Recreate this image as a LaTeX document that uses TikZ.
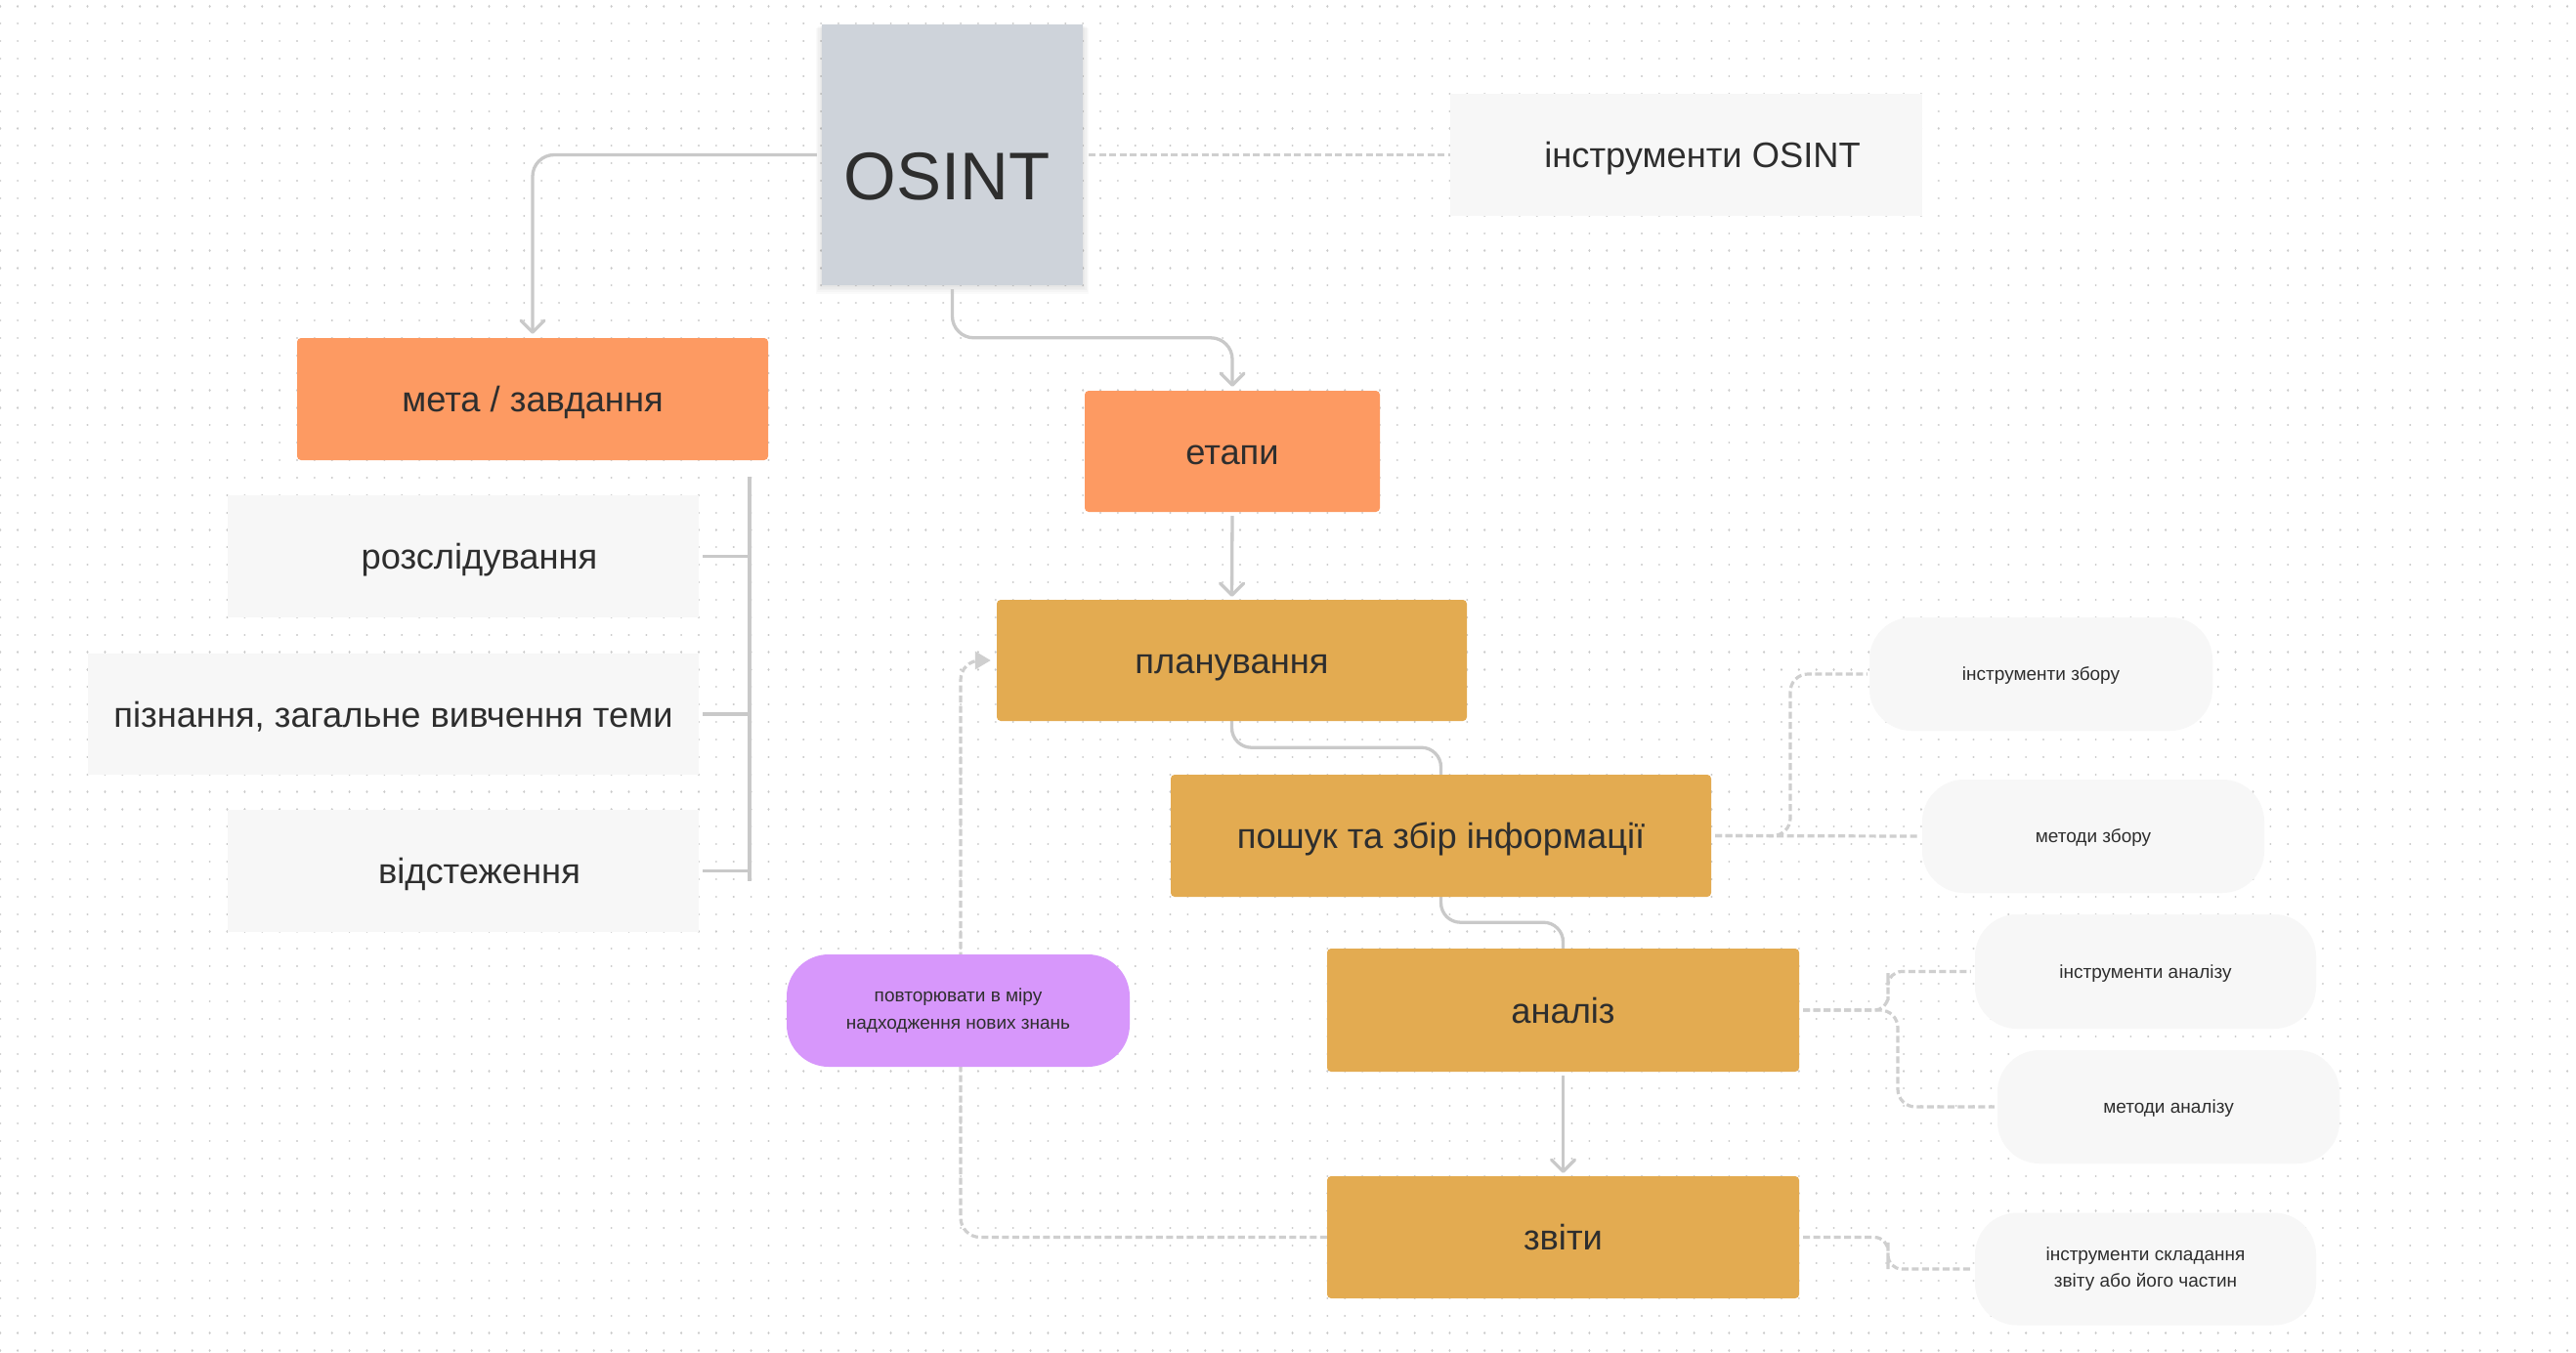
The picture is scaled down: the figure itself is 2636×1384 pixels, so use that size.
\documentclass[tikz,border=0pt]{standalone}
\usepackage{fontspec}
\setmainfont{Liberation Sans}
\usetikzlibrary{arrows.meta}
\definecolor{osgray}{HTML}{CED3DA}
\definecolor{orng}{HTML}{FD9A62}
\definecolor{gold}{HTML}{E3AB51}
\definecolor{light}{HTML}{F7F7F7}
\definecolor{purp}{HTML}{D797FB}
\definecolor{txt}{HTML}{2E2E2E}
\definecolor{linec}{HTML}{C9C9C9}
\definecolor{dashc}{HTML}{CFCFCF}
\definecolor{dotc}{HTML}{CACACA}
\pgfdeclarelayer{dotlayer}
\pgfdeclarelayer{connlayer}
\pgfsetlayers{dotlayer,connlayer,main}
\begin{document}
\begin{tikzpicture}[x=1pt,y=-1pt,
  base/.style={rectangle, inner sep=0pt, text=txt, align=center},
  bigtext/.style={font=\fontsize{36.3}{44}\selectfont, text height=26pt, text depth=0pt},
  smalltext/.style={font=\fontsize{19}{27.5}\selectfont},
  oneline/.style={text height=13.6pt, text depth=0pt},
  osintbox/.style={base, fill=osgray},
  lightbox/.style={base, fill=light, bigtext},
  orbox/.style={base, fill=orng, rounded corners=4pt, bigtext},
  gdbox/.style={base, fill=gold, rounded corners=4pt, bigtext},
  pill/.style={base, fill=light, rounded corners=43pt, smalltext},
  purpill/.style={base, fill=purp, rounded corners=43pt, smalltext},
  conn/.style={draw=linec, line width=3.3pt, rounded corners=22pt},
  arr/.style={-{Straight Barb[length=12pt,width=24pt,line cap=round,line join=round]}},
  dconn/.style={draw=dashc, line width=3.2pt, dash pattern=on 7pt off 3.5pt, rounded corners=18pt},
]
\useasboundingbox (0,0) rectangle (2636,1384);
\begin{pgfonlayer}{dotlayer}
\fill[white] (0,0) rectangle (2636,1384);
\foreach \k in {0,...,77}
  \draw[dotc, line width=2.2pt, line cap=round, dash pattern=on 0.01pt off 17.86pt]
    (0.2,6.4+17.87*\k) -- (2636,6.4+17.87*\k);
% soft shadow of the OSINT box
\foreach \s in {2,4,6,8,10}
  \fill[black, opacity=0.018] (841-\s*0.6,25+\s*0.4) rectangle (1108+\s*0.6,292+\s*0.9);
\end{pgfonlayer}

% main nodes
\node[osintbox, minimum width=267pt, minimum height=267pt] (osint) at (974.5,158.5) {};
\node[text=txt, font=\fontsize{69}{80}\selectfont, inner sep=0pt] (osinttext) at (969,181) {OSINT};
\node[lightbox, minimum width=483pt, minimum height=125pt] (tools) at (1725.5,158.5) {\hspace*{33pt}інструменти OSINT};
\node[orbox, minimum width=482pt, minimum height=125pt] (meta) at (545,408.5) {мета / завдання};
\node[orbox, minimum width=302pt, minimum height=124pt] (etapy) at (1261,462) {етапи};
\node[gdbox, minimum width=481pt, minimum height=124pt] (plan) at (1260.5,676) {планування};
\node[gdbox, minimum width=553pt, minimum height=125pt] (search) at (1474.5,855.5) {пошук та збір інформації};
\node[gdbox, minimum width=483pt, minimum height=126pt] (analysis) at (1599.5,1034) {аналіз};
\node[gdbox, minimum width=483pt, minimum height=125pt] (reports) at (1599.5,1266.5) {звіти};
\node[lightbox, minimum width=482pt, minimum height=125pt] (rozsl) at (474,569.5) {\hspace*{33pt}розслідування};
\node[lightbox, minimum width=625pt, minimum height=124pt] (pizn) at (402.5,731) {пізнання, загальне вивчення теми};
\node[lightbox, minimum width=482pt, minimum height=125pt] (vidst) at (474,891.5) {\hspace*{33pt}відстеження};
\node[purpill, minimum width=351pt, minimum height=115pt] (repeat) at (980.5,1034.5) {повторювати в міру\\надходження нових знань};
\node[pill, oneline, minimum width=351pt, minimum height=116pt] (izbir) at (2088.5,690) {інструменти збору};
\node[pill, oneline, minimum width=350pt, minimum height=116pt] (mzbir) at (2142,856) {методи збору};
\node[pill, oneline, minimum width=349pt, minimum height=117pt] (ian) at (2195.5,994.5) {інструменти аналізу};
\node[pill, oneline, minimum width=350pt, minimum height=116pt] (man) at (2219,1133) {методи аналізу};
\node[pill, minimum width=349pt, minimum height=115pt] (isk) at (2195.5,1299) {інструменти складання\\звіту або його частин};

\coordinate (brtop) at (767,488);
\coordinate (brbot) at (767,902);

\begin{pgfonlayer}{connlayer}
% solid connectors
\draw[conn, arr, shorten <=5pt, shorten >=4pt] (osint.west) -| (meta.north);
\draw[conn, arr, shorten <=4pt, shorten >=4pt] (osint.south) -- (osint.south |- meta.north) -| (etapy.north);
\draw[conn, arr, shorten <=4pt, shorten >=3pt] (etapy.south) -- (plan.north);
\draw[conn, rounded corners=20pt] (plan.south) -- ++(0,27) -| (search.north);
\draw[conn, rounded corners=20pt] (search.south) -- ++(0,26) -| (analysis.north);
\draw[conn, arr, shorten <=4pt, shorten >=3pt] (analysis.south) -- (reports.north);
% bracket
\draw[draw=linec, line width=3.3pt] (brtop) -- (brbot);
\draw[draw=linec, line width=3.3pt] ([xshift=4pt]rozsl.east) -- (rozsl.east -| brtop);
\draw[draw=linec, line width=3.3pt] ([xshift=4pt]pizn.east) -- (pizn.east -| brtop);
\draw[draw=linec, line width=3.3pt] ([xshift=4pt]vidst.east) -- (vidst.east -| brtop);
% dashed connectors
\draw[dconn, shorten <=6pt] (osint.east) -- (tools.west);
\draw[dconn, shorten <=4pt, shorten >=2pt] (search.east) -- (mzbir.west);
\draw[dconn, shorten <=4pt, shorten >=2pt] (search.east) -| (1832,760) |- (izbir.west);
\draw[dconn, shorten <=4pt, shorten >=4pt, rounded corners=14pt] (analysis.east) -| (1932,1010) |- (ian.west);
\draw[dconn, shorten <=4pt, shorten >=3pt, rounded corners=18pt] (analysis.east) -| (1942,1090) |- (man.west);
\draw[dconn, shorten <=4pt, shorten >=4pt, rounded corners=14pt] (reports.east) -| (1932,1285) |- (isk.west);
\draw[dconn, rounded corners=20pt, shorten >=6pt, -{Triangle[length=16pt,width=18pt]}, dashc]
  (reports.west) -| (983,900) |- (plan.west);
\end{pgfonlayer}
\end{tikzpicture}
\end{document}
